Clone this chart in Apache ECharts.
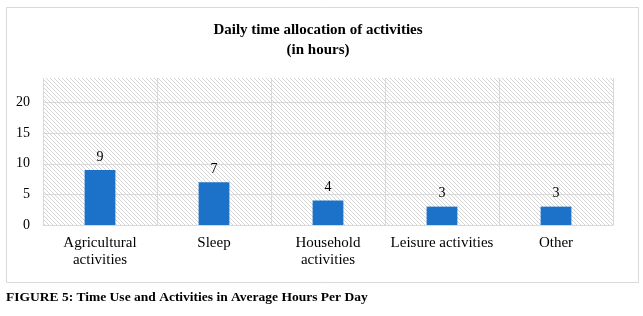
<!DOCTYPE html>
<html>
<head>
<meta charset="utf-8">
<script src="https://cdn.jsdelivr.net/npm/echarts@6/dist/echarts.min.js"></script>
<style>
  html, body { margin: 0; padding: 0; background: #ffffff; }
  #chart { width: 643px; height: 316px; }
</style>
</head>
<body>
<div id="chart"></div>
<script>
const categories = ["Agricultural\nactivities", "Sleep", "Household\nactivities", "Leisure activities", "Other"];
const hours = [9, 7, 4, 3, 3];
const yTicks = [0, 5, 10, 15, 20];

// small hatched tile for the plot background
const makeHatch = () => {
  const c = document.createElement("canvas");
  c.width = 4;
  c.height = 4;
  const ctx = c.getContext("2d");
  ctx.fillStyle = "#ffffff";
  ctx.fillRect(0, 0, 4, 4);
  ctx.strokeStyle = "#d6d6d6";
  ctx.lineWidth = 1;
  ctx.beginPath();
  ctx.moveTo(0, 0);
  ctx.lineTo(4, 4);
  ctx.stroke();
  return c;
};

const serif = "'Liberation Serif', 'DejaVu Serif', serif";
const myChart = echarts.init(document.getElementById("chart"));
const option = {
  animation: false,
  title: [
    {
      text: "Daily time allocation of activities\n(in hours)",
      left: 318,
      top: 20,
      padding: 0,
      textAlign: "center",
      textStyle: {fontFamily: serif, fontSize: 15, fontWeight: "bold", color: "#000", lineHeight: 20}
    },
    {
      text: "FIGURE 5: Time Use and Activities in Average Hours Per Day",
      left: 6,
      top: 291,
      padding: 0,
      textStyle: {fontFamily: serif, fontSize: 13.5, fontWeight: "bold", color: "#000"}
    }
  ],
  graphic: [
    {
      type: "rect",
      shape: {x: 6.5, y: 7.5, width: 632, height: 275},
      style: {fill: null, stroke: "#d9d9d9", lineWidth: 1},
      silent: true
    }
  ],
  grid: {
    left: 43,
    right: 30,
    top: 78,
    bottom: 91,
    show: true,
    borderWidth: 0,
    backgroundColor: {image: makeHatch(), repeat: "repeat"}
  },
  xAxis: {
    type: "category",
    data: categories,
    axisLine: {lineStyle: {color: "#d9d9d9"}},
    axisTick: {show: false},
    splitLine: {show: true, lineStyle: {color: "#d9d9d9"}},
    axisLabel: {fontFamily: serif, fontSize: 15, color: "#000", lineHeight: 17, margin: 10, interval: 0}
  },
  yAxis: {
    type: "value",
    min: 0,
    max: 24,
    interval: 5,
    axisLine: {show: false},
    axisTick: {show: false},
    splitLine: {showMaxLine: false, lineStyle: {color: "#d9d9d9"}},
    axisLabel: {
      fontFamily: serif, fontSize: 14, color: "#000", margin: 13,
      formatter: v => (yTicks.includes(v) ? String(v) : "")
    }
  },
  series: [
    {
      type: "bar",
      data: hours,
      barWidth: "27%",
      itemStyle: {color: "#1b72c8"},
      label: {show: true, position: "top", distance: 6, fontFamily: serif, fontSize: 14, color: "#000"}
    }
  ]
};
myChart.setOption(option);
</script>
</body>
</html>
